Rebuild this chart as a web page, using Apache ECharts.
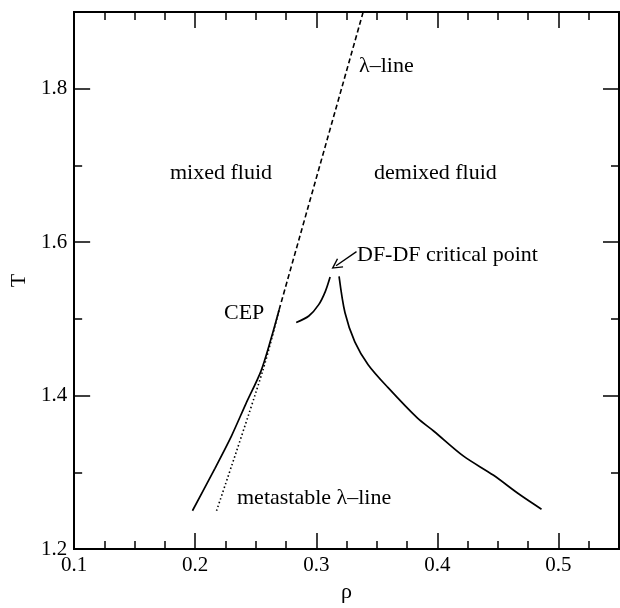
<!DOCTYPE html>
<html><head><meta charset="utf-8">
<script src="https://cdn.jsdelivr.net/npm/echarts@6/dist/echarts.min.js"></script>
<style>html,body{margin:0;padding:0;background:#fff}#c{width:620px;height:608px}</style>
</head><body><div id="c"></div>
<script>
// lambda line, solid part (below CEP)
const lambdaSolidRho = [0.1977, 0.2162, 0.2298, 0.2420, 0.2543, 0.2626, 0.2693];
const lambdaSolidT   = [1.250, 1.305, 1.347, 1.390, 1.432, 1.474, 1.512];
// lambda line, dashed part (above CEP)
const lambdaDashRho = [0.2693, 0.3387];
const lambdaDashT   = [1.512, 1.900];
// metastable lambda line (dotted)
const metaRho = [0.2176, 0.2557, 0.2693];
const metaT   = [1.250, 1.432, 1.512];
// DF-DF coexistence, left branch
const dfLeftRho = [0.2834, 0.2938, 0.3020, 0.3074, 0.3114];
const dfLeftT   = [1.4953, 1.5038, 1.5186, 1.5356, 1.5546];
// DF-DF coexistence, right branch
const dfRightRho = [0.3188, 0.3237, 0.3318, 0.3428, 0.3591, 0.3836, 0.3971, 0.4216, 0.4461, 0.4679, 0.4860];
const dfRightT   = [1.5554, 1.5080, 1.4700, 1.4404, 1.4107, 1.3706, 1.3536, 1.3211, 1.2965, 1.2711, 1.2520];
// arrow to DF-DF critical point (from, to)
const arrowRho = [0.3332, 0.3163];
const arrowT   = [1.5876, 1.5693];
// axes
const xMin = 0.1, xMax = 0.55, xMajor = 0.1, xMinor = 0.025;
const yMin = 1.2, yMax = 1.9, yMajor = 0.2, yMinor = 0.1;

const FONT = 'Liberation Serif';
const zip = (a, b) => a.map((v, i) => [v, b[i]]);

function xAx(pos, interval, len, labels) {
  return {
    type: 'value', min: xMin, max: xMax, interval: interval, position: pos,
    axisLine: { show: true, lineStyle: { color: '#000', width: 2 } },
    axisTick: { show: true, inside: true, length: len, lineStyle: { color: '#000', width: 1.5 } },
    axisLabel: labels ? { show: true, color: '#000', fontFamily: FONT, fontSize: 21, margin: 6,
      showMaxLabel: false, formatter: v => v.toFixed(1) } : { show: false },
    splitLine: { show: false },
    name: labels ? 'ρ' : '', nameLocation: 'middle', nameGap: 21,
    nameTextStyle: { color: '#000', fontFamily: FONT, fontSize: 22 }
  };
}
function yAx(pos, interval, len, labels) {
  return {
    type: 'value', min: yMin, max: yMax, interval: interval, position: pos,
    axisLine: { show: true, lineStyle: { color: '#000', width: 2 } },
    axisTick: { show: true, inside: true, length: len, lineStyle: { color: '#000', width: 1.5 } },
    axisLabel: labels ? { show: true, color: '#000', fontFamily: FONT, fontSize: 21, margin: 7,
      showMaxLabel: false, formatter: v => v.toFixed(1) } : { show: false },
    splitLine: { show: false },
    name: labels ? 'T' : '', nameLocation: 'middle', nameGap: 40, nameRotate: 90,
    nameTextStyle: { color: '#000', fontFamily: FONT, fontSize: 22 }
  };
}
function lineSeries(data, type, width) {
  return { type: 'line', xAxisIndex: 0, yAxisIndex: 0, data: data, showSymbol: false, symbol: 'none',
    smooth: 0.3, animation: false, silent: true,
    lineStyle: { color: '#000', width: width, type: type } };
}
function txt(s, x, cy) {
  return { type: 'text', left: x, top: cy - 13, silent: true,
    style: { text: s, fill: '#000', font: '22px "Liberation Serif"' } };
}

const chevron = 'path://M0,0 L5.6,10 L4.4,10.7 L0,2.8 L-4.4,10.7 L-5.6,10 Z';

const chart = echarts.init(document.getElementById('c'), null, { renderer: 'canvas' });
chart.setOption({
  animation: false,
  backgroundColor: '#fff',
  grid: { left: 69, right: 1, top: 12, bottom: 45, containLabel: false },
  xAxis: [xAx('bottom', xMajor, 16, true), xAx('bottom', xMinor, 8, false),
          xAx('top', xMajor, 16, false), xAx('top', xMinor, 8, false)],
  yAxis: [yAx('left', yMajor, 16, true), yAx('left', yMinor, 8, false),
          yAx('right', yMajor, 16, false), yAx('right', yMinor, 8, false)],
  series: [
    lineSeries(zip(lambdaSolidRho, lambdaSolidT), 'solid', 1.7),
    lineSeries(zip(lambdaDashRho, lambdaDashT), [5, 3], 1.6),
    lineSeries(zip(metaRho, metaT), [1.5, 2.5], 1.6),
    lineSeries(zip(dfLeftRho, dfLeftT), 'solid', 1.7),
    Object.assign(lineSeries(zip(dfRightRho, dfRightT), 'solid', 1.7), {
      markLine: { silent: true, animation: false, symbol: ['none', chevron], symbolSize: [11, 11],
        label: { show: false }, lineStyle: { color: '#000', width: 1.4, type: 'solid' },
        data: [[{ coord: [arrowRho[0], arrowT[0]] }, { coord: [arrowRho[1], arrowT[1]] }]] }
    })
  ],
  graphic: [
    txt('λ–line', 359, 68),
    txt('mixed fluid', 170, 175),
    txt('demixed fluid', 374, 175),
    txt('CEP', 224, 315),
    txt('DF-DF critical point', 357, 257),
    txt('metastable λ–line', 237, 500)
  ]
});
</script></body></html>
